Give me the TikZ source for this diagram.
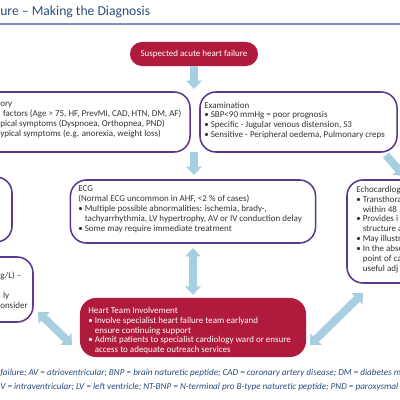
\documentclass[tikz,border=0pt]{standalone}
\usepackage{fontspec}
\setmainfont{Carlito}
\usepackage{xcolor}
\usetikzlibrary{arrows.meta}
\definecolor{hfred}{HTML}{B01A3D}
\definecolor{flowblue}{HTML}{A8CFDF}
\definecolor{boxpurple}{HTML}{5B3A8E}
\definecolor{titleblue}{HTML}{2C4C7C}
\definecolor{ruleblue}{HTML}{7A93B8}
\colorlet{bodytext}{black!80}
\newcommand\bl{\textbullet\ }
\newcommand\ind{\hphantom{\textbullet\ }}
\tikzstyle{flowhead}=[>/.tip={Triangle[length=6pt,width=11pt]}]
\tikzstyle{flow} =[line width=5.6pt,draw=flowblue,flowhead,->]
\tikzstyle{flows}=[line width=5.6pt,draw=flowblue,flowhead,<->]
\tikzstyle{infobox}=[draw=boxpurple,line width=1.1pt,rounded corners=0.4cm,inner sep=0pt]
\tikzstyle{teambox}=[fill=hfred,rounded corners=0.4cm,inner sep=0pt]
\tikzstyle{txt}=[inner sep=0pt,align=left,anchor=north west,text=bodytext,font=\fontsize{6.4}{7.1}\selectfont]
\tikzstyle{note}=[inner sep=0pt,anchor=base west,text=titleblue,font=\fontsize{6.5}{8}\selectfont\itshape]
\begin{document}
\begin{tikzpicture}[x=0.025cm,y=-0.025cm]
	\useasboundingbox (0,0) rectangle (400,400);
	\clip (0,0) rectangle (400,400);
	% heading
	\node[inner sep=0pt,anchor=base west,text=titleblue,font=\fontsize{9.7}{12}\selectfont] (title) at (0,16) {ure \textendash\ Making the Diagnosis};
	\draw[ruleblue,line width=0.8pt] (0,24) -- (400,24);
	% boxes
	\node[teambox,rounded corners=0.3cm,minimum width=3.2cm,minimum height=0.6cm,text=white,font=\fontsize{6.4}{7.1}\selectfont] (suspect) at (194,54) {Suspected acute heart failure};
	\node[infobox,minimum width=6.25cm,minimum height=1.5cm] (history) at (65,122) {};
	\node[infobox,minimum width=4.925cm,minimum height=1.5cm] (exam) at (298.5,122) {};
	\node[infobox,minimum width=2.3cm,minimum height=1.625cm] (lefta) at (-34,209.5) {};
	\node[infobox,minimum width=6.125cm,minimum height=1.575cm] (ecg) at (193,211.5) {};
	\node[infobox,minimum width=3.325cm,minimum height=1.625cm] (leftb) at (-33.5,289.5) {};
	\node[infobox,minimum width=3.325cm,minimum height=2.575cm] (echo) at (413.5,231.5) {};
	\node[teambox,minimum width=5.65cm,minimum height=1.475cm] (team) at (193,327.5) {};
	% box texts
	\node[txt] (historytxt) at (0,101.5) {ory\\\hspace{2pt}factors (Age > 75, HF, PrevMI, CAD, HTN, DM, AF)\\pical symptoms (Dyspnoea, Orthopnea, PND)\\ypical symptoms (e.g. anorexia, weight loss)};
	\node[txt] (examtxt) at (204,101.5) {Examination\\\bl SBP<90 mmHg = poor prognosis\\\bl Specific - Jugular venous distension, S3\\\bl Sensitive - Peripheral oedema, Pulmonary creps};
	\node[txt] (ecgtxt) at (78,185.5) {ECG\\(Normal ECG uncommon in AHF, <2 \% of cases)\\\bl Multiple possible abnormalities: ischemia, brady-,\\\ind tachyarrhythmia, LV hypertrophy, AV or IV conduction delay\\\bl Some may require immediate treatment};
	\node[txt] (echotxt) at (356,185.5) {Echocardiog\\\bl Transthora\\\ind within 48\\\bl Provides i\\\ind structure a\\\bl May illustr\\\bl In the abse\\\ind point of ca\\\ind useful adj};
	\node[txt] (leftbtxt) at (0,272) {g/L) \textendash\\\mbox{}\\\hspace{2pt}ly\\onsider};
	\node[txt,text=white] (teamtxt) at (88,306.5) {Heart Team Involvement\\\bl Involve specialist heart failure team earlyand\\\ind ensure continuing support\\\bl Admit patients to specialist cardiology ward or ensure\\\ind access to adequate outreach services};
	% flow
	\coordinate (hxtop) at (194,89);
	\coordinate (hxbot) at (194,152);
	\coordinate (ecgtop) at (194,175);
	\coordinate (leftbend) at (38,312);
	\coordinate (teamleft) at (72,345);
	\coordinate (teamright) at (310,345);
	\coordinate (echoend) at (363,293);
	\coordinate (examend) at (386,155);
	\coordinate (echotop) at (404,176);
	\draw[flow] (suspect.south) -- (hxtop);
	\draw[flow] (hxbot) -- (ecgtop);
	\draw[flows,shorten <=3pt,shorten >=2pt] (ecg.south) -- (team.north);
	\draw[flows] (leftbend) -- (teamleft);
	\draw[flows] (teamright) -- (echoend);
	\draw[flow] (examend) -- (echotop);
	% abbreviations
	\node[note] (note1) at (0,375.5) {failure; AV = atrioventricular; BNP = brain naturetic peptide; CAD = coronary artery disease; DM = diabetes m};
	\node[note] (note2) at (0,389.5) {V = intraventricular; LV = left ventricle; NT-BNP = N-terminal pro B-type naturetic peptide; PND = paroxysmal};
\end{tikzpicture}
\end{document}
